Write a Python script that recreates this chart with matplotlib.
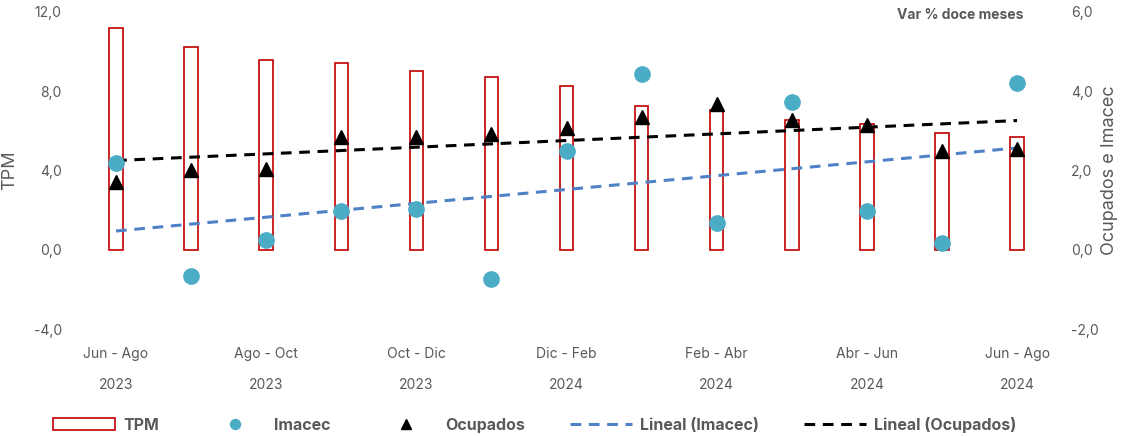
import numpy as np
import matplotlib.pyplot as plt
from matplotlib.ticker import FuncFormatter

plt.rcParams['font.family'] = ['Inter', 'DejaVu Sans']

periods = ["Jun - Ago", "Jul - Sep", "Ago - Oct", "Sep - Nov", "Oct - Dic", "Nov - Ene", "Dic - Feb",
           "Ene - Mar", "Feb - Abr", "Mar - May", "Abr - Jun", "May - Jul", "Jun - Ago"]
years = ["2023"] * 6 + ["2024"] * 7
tpm = [11.2, 10.25, 9.6, 9.45, 9.0, 8.7, 8.25, 7.25, 7.05, 6.55, 6.35, 5.9, 5.7]
imacec = [2.2, -0.66, 0.25, 0.99, 1.04, -0.73, 2.48, 4.43, 0.68, 3.72, 0.99, 0.18, 4.2]
ocupados = [1.7, 2.0, 2.03, 2.84, 2.84, 2.91, 3.06, 3.34, 3.67, 3.27, 3.14, 2.5, 2.53]

x = np.arange(len(periods))
grey = "#595959"

fig = plt.figure(figsize=(11.23, 4.36), dpi=100)
ax = fig.add_axes([0.0699, 0.2454, 0.8692, 0.7271])
ax2 = ax.twinx()

ax.bar(x, tpm, width=0.18, facecolor="white", edgecolor="#C00000", linewidth=1.2, label="TPM", zorder=1)
ax.set_ylim(-4, 12)
ax.set_xlim(-0.5, len(periods) - 0.5)
ax.set_yticks([-4, 0, 4, 8, 12])

ax2.set_ylim(-2, 6)
ax2.set_yticks([-2, 0, 2, 4, 6])
ax2.plot(x, imacec, "o", color="#4BACC6", markersize=11, label="Imacec", zorder=3)
ax2.plot(x, ocupados, "^", color="black", markersize=10, label="Ocupados", zorder=3)

# trend lines
p_im = np.polyfit(x, imacec, 1)
p_oc = np.polyfit(x, ocupados, 1)
ax2.plot(x, np.polyval(p_im, x), linestyle=(0, (3.5, 2.5)), color="#4F81C7", linewidth=2.2,
         label="Lineal (Imacec)", zorder=2)
ax2.plot(x, np.polyval(p_oc, x), linestyle=(0, (3.5, 2.5)), color="black", linewidth=2.2,
         label="Lineal (Ocupados)", zorder=2)

fmt = FuncFormatter(lambda v, p: f"{v:.1f}".replace(".", ","))
for a in (ax, ax2):
    a.yaxis.set_major_formatter(fmt)
    a.tick_params(axis="y", length=0, labelsize=10, labelcolor=grey, pad=12)
    for s in a.spines.values():
        s.set_visible(False)

ax.set_xticks(x[::2])
ax.set_xticklabels([f"{p}\n\n{y}" for p, y in zip(periods[::2], years[::2])], linespacing=1.15)
ax.tick_params(axis="x", length=0, labelsize=10, labelcolor=grey, pad=13)

ax.set_ylabel("TPM", fontsize=13, color=grey)
ax.yaxis.set_label_coords(-0.062, 0.5)
ax2.set_ylabel("Ocupados e Imacec", fontsize=13, color=grey)
ax2.yaxis.set_label_coords(1.048, 0.5)

fig.text(0.911, 0.965, "Var % doce meses", ha="right", va="center", fontsize=10,
         fontweight="bold", color=grey)

h1, l1 = ax.get_legend_handles_labels()
h2, l2 = ax2.get_legend_handles_labels()
fig.legend(h1 + h2, l1 + l2, loc="lower center", bbox_to_anchor=(0.476, -0.025), ncol=5,
           frameon=False, handlelength=3.9, columnspacing=2.8, handletextpad=0.5,
           markerscale=0.65, prop={"weight": "bold", "size": 11.5}, labelcolor=grey)

fig.savefig("out.png", dpi=100)
